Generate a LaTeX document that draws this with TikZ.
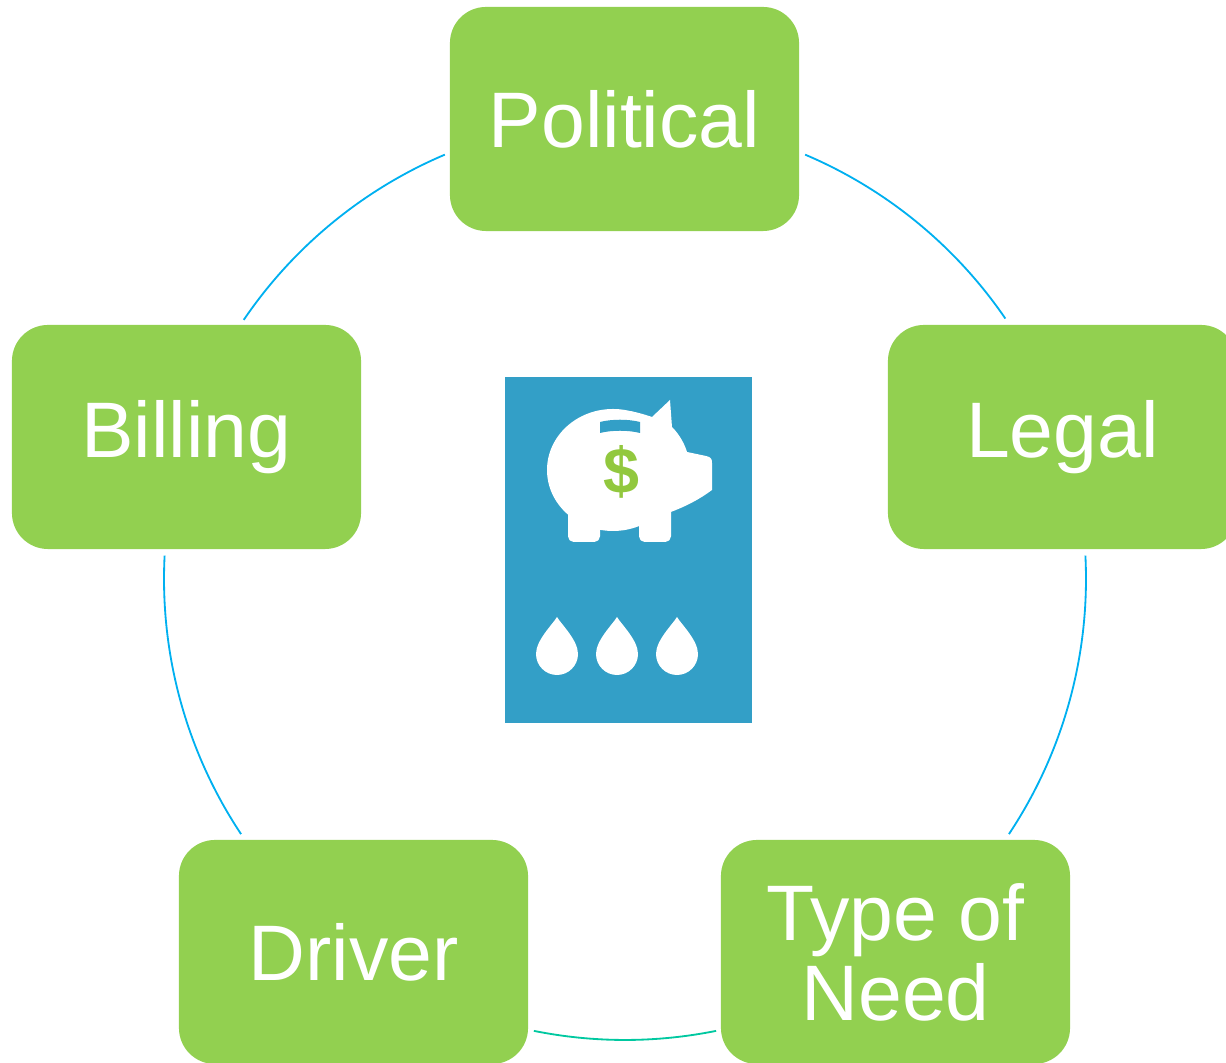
\documentclass[tikz,border=0pt]{standalone}
\usepackage{fontspec}
\setmainfont{Liberation Sans}
\definecolor{boxgreen}{HTML}{92D050}
\definecolor{iconblue}{HTML}{339FC7}
\definecolor{ringblue}{HTML}{00B0F0}
\definecolor{ringteal}{HTML}{00C8A0}
\definecolor{dollargreen}{HTML}{92C83E}
\begin{document}
\begin{tikzpicture}[x=0.025cm,y=0.025cm,
  main node/.style={rectangle,rounded corners=0.9cm,fill=boxgreen,text=white,
    minimum width=8.725cm,minimum height=5.6cm,align=center,
    font=\fontsize{56}{57}\selectfont},
  ring/.style={ringblue,line width=1.3pt}]
  \useasboundingbox (0,0) rectangle (1226,1063);
  \clip (0,0) rectangle (1226,1063);

  \coordinate (c) at (625,484);

  \node[main node] (pol) at (624.5,944) {Political};
  \node[main node] (leg) at (1062.5,626) {Legal};
  \node[main node] (bil) at (186.5,626) {Billing};
  \node[main node] (drv) at (353.5,111) {Driver};
  \node[main node] (typ) at (895.5,111) {Type of\\Need};

  \coordinate (pol-r) at ([shift={(67:461)}]c);
  \coordinate (leg-r) at ([shift={(2.9:461)}]c);
  \coordinate (typ-r) at ([shift={(-78.6:461)}]c);
  \coordinate (drv-r) at ([shift={(-146.4:461)}]c);
  \coordinate (bil-r) at ([shift={(145.8:461)}]c);

  \draw[ring] (pol-r) arc[start angle=67,end angle=34.4,radius=461];
  \draw[ring] (leg-r) arc[start angle=2.9,end angle=-33.6,radius=461];
  \draw[ring,ringteal] (typ-r) arc[start angle=-78.6,end angle=-101.4,radius=461];
  \draw[ring] (drv-r) arc[start angle=-146.4,end angle=-182.9,radius=461];
  \draw[ring] (bil-r) arc[start angle=145.8,end angle=113,radius=461];

  \node[fill=iconblue,minimum width=6.175cm,minimum height=8.65cm,inner sep=0] (icon) at (628.5,513) {};

  \fill[white] (613,593) ellipse[x radius=66,y radius=61];
  \fill[white] (630,652) .. controls (640,650) and (646,648) .. (652,646) -- (670,663) -- (672,636)
    .. controls (680,628) and (685,618) .. (687,611)
    -- (706,607) .. controls (711,606) and (712,604) .. (712,600) -- (712,573)
    .. controls (700,564) and (685,556) .. (668,550) -- (640,570) -- cycle;
  \fill[white,rounded corners=4] (568,560) -- (568,521) -- (600,521) -- (600,560) -- cycle;
  \fill[white,rounded corners=4] (639,575) -- (639,521) -- (671,521) -- (671,575) -- cycle;
  \fill[iconblue] (600,630) .. controls (612,633) and (628,633) .. (640,630) -- (640,641)
    .. controls (628,644) and (612,644) .. (600,641) -- cycle;
  \node[text=dollargreen,font=\fontsize{46}{46}\selectfont\bfseries] (usd) at (621,591) {\$};

  \foreach \x in {557,617,677}
    \fill[white,shift={(\x,409)}] (0,37) .. controls (4,30) and (21,14) .. (21,0)
      arc[start angle=0,end angle=-180,radius=21] .. controls (-21,14) and (-4,30) .. (0,37) -- cycle;
\end{tikzpicture}
\end{document}
